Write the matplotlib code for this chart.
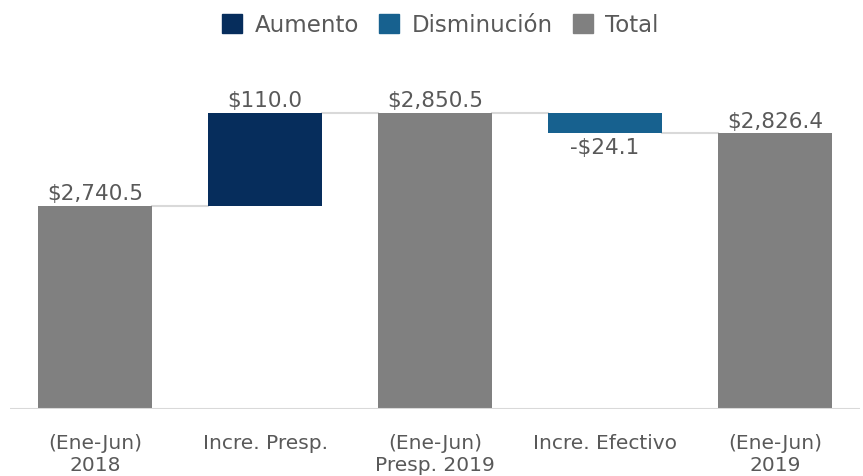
import matplotlib
matplotlib.use("Agg")
import matplotlib.pyplot as plt
from matplotlib.patches import Patch

categories = ["(Ene-Jun)\n2018", "Incre. Presp.", "(Ene-Jun)\nPresp. 2019", "Incre. Efectivo", "(Ene-Jun)\n2019"]
values = [2740.5, 110.0, 2850.5, -24.1, 2826.4]
kinds = ["total", "up", "total", "down", "total"]
labels = ["$2,740.5", "$110.0", "$2,850.5", "-$24.1", "$2,826.4"]

colors = {"up": "#062d5c", "down": "#17618f", "total": "#808080"}
txt = "#595959"
plt.rcParams['font.family'] = ['DejaVu Sans']

fig = plt.figure(figsize=(8.63, 4.77), dpi=100)
ax = fig.add_axes([10/863, 1-410/477, 850/863, 338/477])
ymin = 2500
ax.set_ylim(ymin, 2900)
ax.set_xlim(-0.5, 4.5)
w = 0.67

level = 0
for i, (v, k) in enumerate(zip(values, kinds)):
    if k == "total":
        b, t = ymin, v
        level = v
    elif k == "up":
        b, t = level, level + v
        level = level + v
    else:
        b, t = level + v, level
        level = level + v
    ax.bar(i, t - b, bottom=b, width=w, color=colors[k], zorder=3)
    if k == "down":
        ax.text(i, b - 4, labels[i], ha="center", va="top", fontsize=15.5, color=txt)
    else:
        ax.text(i, t + 3, labels[i], ha="center", va="bottom", fontsize=15.5, color=txt)

# connectors
lev = []
level = 0
for v, k in zip(values, kinds):
    level = v if k == "total" else level + v
    lev.append(level)
for i in range(len(values) - 1):
    ax.plot([i + w/2, i + 1 - w/2], [lev[i], lev[i]], color="#d9d9d9", lw=1.5, zorder=2)

ax.axhline(ymin, color="#d9d9d9", lw=1.5, zorder=4)
for s in ax.spines.values():
    s.set_visible(False)
ax.set_yticks([])
ax.set_xticks(range(len(categories)))
ax.set_xticklabels(categories, fontsize=14.5, color=txt, linespacing=1.25)
ax.tick_params(axis="x", length=0, pad=17)

handles = [Patch(color=colors["up"], label="Aumento"),
           Patch(color=colors["down"], label="Disminución"),
           Patch(color=colors["total"], label="Total")]
leg = fig.legend(handles=handles, loc="center", bbox_to_anchor=(0.5 + 9/863, 1-26/477), ncol=3,
                 frameon=False, fontsize=16.5, handlelength=0.85, handleheight=0.85,
                 handletextpad=0.55, columnspacing=0.9)
for t in leg.get_texts():
    t.set_color(txt)

fig.savefig("out.png", dpi=100)
